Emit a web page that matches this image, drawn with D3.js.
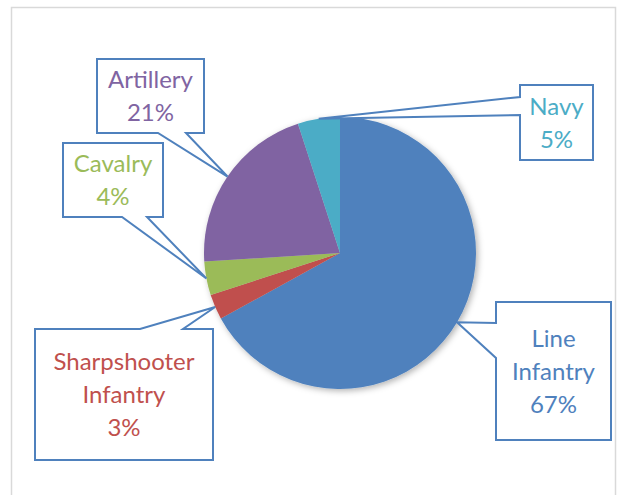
<!DOCTYPE html>
<html>
<head>
<meta charset="utf-8">
<script src="https://cdn.jsdelivr.net/npm/d3@7"></script>
<style>
  body { margin: 0; background: #fff; }
  svg { display: block; }
</style>
</head>
<body>
<svg id="chart"></svg>
<script>
var width = 618, height = 495;

// data
var categories = ["Line Infantry", "Sharpshooter Infantry", "Cavalry", "Artillery", "Navy"];
var shares = [67, 3, 4, 21, 5];
var colors = ["#4F81BD", "#C0504D", "#9BBB59", "#8064A2", "#4BACC6"];
var labelLines = [["Line", "Infantry", "67%"], ["Sharpshooter", "Infantry", "3%"], ["Cavalry", "4%"], ["Artillery", "21%"], ["Navy", "5%"]];

// callout boxes (x, y, w, h), wedge side and base range along that side
var boxes = [
  {x: 496, y: 302, w: 115, h: 138, side: "left",   b0: 323, b1: 358},
  {x: 35,  y: 329, w: 178, h: 131, side: "top",    b0: 140, b1: 183},
  {x: 63,  y: 143, w: 100, h: 74,  side: "bottom", b0: 122, b1: 147},
  {x: 97,  y: 59,  w: 107, h: 74,  side: "bottom", b0: 158, b1: 186},
  {x: 520, y: 85,  w: 73,  h: 75,  side: "left",   b0: 97,  b1: 115}
];

var cx = 340, cy = 253, radius = 136;

var svg = d3.select("#chart")
    .attr("width", width)
    .attr("height", height);

// frame
svg.append("rect")
    .attr("x", 11.5).attr("y", 7.5)
    .attr("width", 604).attr("height", 500)
    .attr("fill", "none")
    .attr("stroke", "#d9d9d9")
    .attr("stroke-width", 1.5);

var defs = svg.append("defs");
var shadow = defs.append("filter").attr("id", "shadow")
    .attr("x", "-20%").attr("y", "-20%").attr("width", "140%").attr("height", "140%");
shadow.append("feDropShadow")
    .attr("dx", 2).attr("dy", 2).attr("stdDeviation", 3)
    .attr("flood-color", "#000").attr("flood-opacity", 0.3);

var data = categories.map(function(c, i) {
  return {name: c, value: shares[i], color: colors[i], lines: labelLines[i], box: boxes[i]};
});

var pie = d3.pie().sort(null).value(function(d) { return d.value; });
var arcs = pie(data);

var arc = d3.arc().innerRadius(0).outerRadius(radius);
var edge = d3.arc().innerRadius(radius).outerRadius(radius);

var g = svg.append("g").attr("transform", "translate(" + cx + "," + cy + ")");

g.append("g").attr("filter", "url(#shadow)")
  .selectAll("path")
  .data(arcs)
  .enter()
  .append("path")
    .attr("d", arc)
    .attr("fill", function(d) { return d.data.color; });

// callouts
function calloutPath(b, tip) {
  var x0 = b.x, y0 = b.y, x1 = b.x + b.w, y1 = b.y + b.h;
  var p = [];
  if (b.side == "bottom") {
    p = [[x0, y0], [x1, y0], [x1, y1], [b.b1, y1], tip, [b.b0, y1], [x0, y1]];
  } else if (b.side == "top") {
    p = [[x0, y0], [b.b0, y0], tip, [b.b1, y0], [x1, y0], [x1, y1], [x0, y1]];
  } else if (b.side == "left") {
    p = [[x0, y0], [x1, y0], [x1, y1], [x0, y1], [x0, b.b1], tip, [x0, b.b0]];
  }
  return "M" + p.map(function(q) { return q[0] + "," + q[1]; }).join("L") + "Z";
}

var lineStep = 33;

var callout = svg.append("g").selectAll("g.callout")
  .data(arcs)
  .enter()
  .append("g")
    .attr("class", "callout");

callout.append("path")
    .attr("d", function(d) {
      var c = edge.centroid(d);
      return calloutPath(d.data.box, [cx + c[0], cy + c[1]]);
    })
    .attr("fill", "#fff")
    .attr("stroke", "#4F81BD")
    .attr("stroke-width", 2)
    .attr("stroke-linejoin", "miter");

callout.each(function(d) {
  var b = d.data.box, n = d.data.lines.length;
  var mx = b.x + b.w / 2, my = b.y + b.h / 2;
  d3.select(this).selectAll("text")
    .data(d.data.lines)
    .enter()
    .append("text")
      .attr("x", mx)
      .attr("y", function(t, i) { return my + (i - (n - 1) / 2) * lineStep + 8.5; })
      .attr("text-anchor", "middle")
      .attr("font-family", "Lato, 'Open Sans', sans-serif")
      .attr("font-size", "24px")
      .attr("fill", d.data.color)
      .text(function(t) { return t; });
});
</script>
</body>
</html>
